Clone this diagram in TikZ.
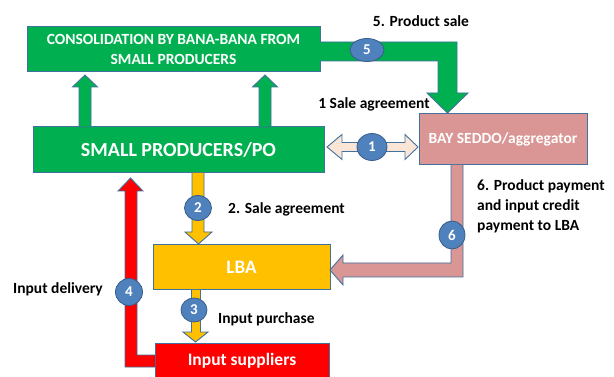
\documentclass[tikz,border=0pt]{standalone}
\usepackage{fontspec}
\setmainfont{Carlito}
\usetikzlibrary{calc}
\definecolor{pgreen}{RGB}{0,176,80}
\definecolor{pyellow}{RGB}{255,192,0}
\definecolor{pred}{RGB}{255,0,0}
\definecolor{ppink}{RGB}{217,150,148}
\definecolor{ppeach}{RGB}{251,229,214}
\definecolor{pout}{RGB}{65,113,156}
\definecolor{pblue}{RGB}{79,129,189}
\definecolor{pblueout}{RGB}{56,93,138}
\tikzset{
  box/.style={draw=pout, line width=1pt, rectangle, inner sep=0pt, align=center,
    text=white, font=\bfseries},
  blk/.style={draw=pout, line width=0.9pt, line join=miter},
  numc/.style={draw=pblueout, line width=0.8pt, fill=pblue},
  lab/.style={font=\bfseries\fontsize{15.5}{20}\selectfont, text=black, inner sep=0pt},
}
\begin{document}
\begin{tikzpicture}[x=1pt,y=-1pt]
\useasboundingbox (0,0) rectangle (614,377);
\fill[white] (0,0) rectangle (614,377);

% boxes
\node[box, fill=pgreen, minimum width=293pt, minimum height=45pt,
  font=\bfseries\fontsize{15.5}{19.5}\selectfont] (cons) at (173.5,49.5)
  {CONSOLIDATION BY BANA-BANA FROM\\SMALL PRODUCERS};
\node[box, fill=pgreen, minimum width=291pt, minimum height=46pt,
  font=\bfseries\fontsize{20}{22}\selectfont] (sp) at (178.5,150) {SMALL PRODUCERS/PO};
\node[box, fill=ppink, minimum width=168pt, minimum height=51pt,
  font=\bfseries\fontsize{15.5}{17}\selectfont] (bay) at (503,139.5) {BAY SEDDO/aggregator};
\node[box, fill=pyellow, minimum width=177pt, minimum height=45pt,
  font=\bfseries\fontsize{19}{21}\selectfont] (lba) at (241.5,267.5) {LBA};
\node[box, fill=pred, minimum width=174pt, minimum height=38pt, anchor=north] (inp) at (242,343) {};
\node[text=white, font=\bfseries\fontsize{17.5}{19}\selectfont] (inptext) at (242,361) {Input suppliers};

% green up arrows from small producers to consolidation
\foreach \cx in {85,265}{
  \filldraw[blk, fill=pgreen] (\cx-6,127) -- (\cx-6,87) -- (\cx-12.5,87) -- (\cx,75)
    -- (\cx+12.5,87) -- (\cx+6,87) -- (\cx+6,127) -- cycle;
}

% arrow 5: consolidation -> bay
\filldraw[blk, fill=pgreen] (320,42) -- (457,42) -- (457,93) -- (468,93) -- (447.5,113)
  -- (427,93) -- (438,93) -- (438,61) -- (320,61);

% arrow 1: double arrow
\filldraw[blk, fill=ppeach] (327,147) -- (342,134.5) -- (342,142.5) -- (405,142.5)
  -- (405,134.5) -- (418,147) -- (405,159.5) -- (405,151.5) -- (342,151.5)
  -- (342,159.5) -- cycle;

% arrow 6: bay -> lba
\filldraw[blk, fill=ppink] (451,165) -- (451,263) -- (343,263) -- (343,255) -- (330,270)
  -- (343,285) -- (343,277) -- (463,277) -- (463,165);

% arrow 2: sp -> lba
\filldraw[blk, fill=pyellow] (192,173) -- (192,232) -- (185,232) -- (198.5,244)
  -- (212,232) -- (204,232) -- (204,173);

% arrow 3: lba -> input suppliers
\filldraw[blk, fill=pyellow] (191.5,290) -- (191.5,332) -- (183,332) -- (195.5,342)
  -- (208,332) -- (200.5,332) -- (200.5,290);

% arrow 4: input suppliers -> sp
\filldraw[blk, fill=pred] (155,355) -- (137,355) -- (137,191) -- (143,191) -- (130.5,178)
  -- (118,191) -- (125,191) -- (125,367) -- (155,367);

% numbered circles
\foreach \n/\cx/\cy/\rx/\ry in {1/372/147/15/13.5, 2/198/208/13.5/12.5, 3/194/310/13/12,
    4/129/292/13.5/13.5, 5/367/50/17/11.5, 6/452/235/13/14}{
  \filldraw[numc] (\cx,\cy) ellipse [x radius=\rx pt, y radius=\ry pt];
  \node[text=white, font=\bfseries\fontsize{15}{15}\selectfont, inner sep=0pt] (c\n) at (\cx,\cy) {\n};
}

% labels
\node[lab] (l5) at (421,21) {5. Product sale};
\node[lab] (l1) at (374,104) {1 Sale agreement};
\node[lab, anchor=west] (l2) at (228,209) {2. Sale agreement};
\node[lab, anchor=base west, align=left] (l6) at (477,231) {6. Product payment\\and input credit\\payment to LBA};
\node[lab, anchor=east] (l4) at (103,289) {Input delivery};
\node[lab, anchor=west] (l3) at (218,319) {Input purchase};
\end{tikzpicture}
\end{document}
